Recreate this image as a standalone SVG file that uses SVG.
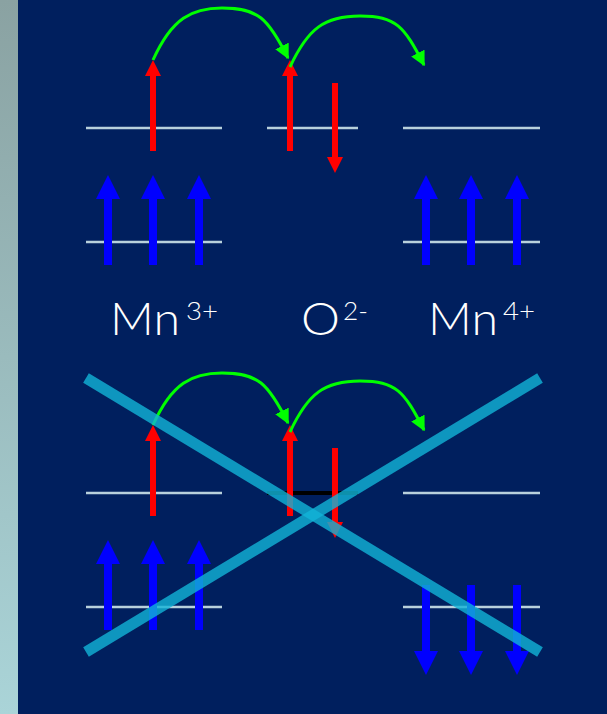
<svg xmlns="http://www.w3.org/2000/svg" width="607" height="714" viewBox="0 0 607 714">
<defs>
<linearGradient id="strip" x1="0" y1="0" x2="0" y2="1">
<stop offset="0" stop-color="#8aa2a2"/>
<stop offset="1" stop-color="#aad4d8"/>
</linearGradient>
<marker id="gh" viewBox="0 0 10 10" refX="9" refY="5" markerWidth="5" markerHeight="5" orient="auto" markerUnits="strokeWidth">
<path d="M0,0 L10,5 L0,10 Z" fill="#00ff00"/>
</marker>
<g id="redUp"><polygon points="-8,16 0,0 8,16" fill="#ff0000"/><rect x="-3" y="14" width="6" height="77" fill="#ff0000"/></g>
<g id="redDown"><polygon points="-8,-16 0,0 8,-16" fill="#ff0000"/><rect x="-3" y="-90" width="6" height="76" fill="#ff0000"/></g>
<g id="blueUp"><polygon points="-12,24 0,0 12,24" fill="#0000ff"/><rect x="-4" y="22" width="8" height="68" fill="#0000ff"/></g>
<g id="blueDown"><polygon points="-12,-24 0,0 12,-24" fill="#0000ff"/><rect x="-4" y="-90" width="8" height="68" fill="#0000ff"/></g>
</defs>
<style>
.lvl{stroke:#b8d0dc;stroke-width:2.5}
.hop{fill:none;stroke:#00ff00;stroke-width:3;marker-end:url(#gh)}
.lbl{font-family:"Lato","Liberation Sans",sans-serif;font-weight:300;fill:#ffffff}
.cross{stroke:#12b4d8;stroke-width:11;opacity:0.8}
</style>
<rect x="0" y="0" width="607" height="714" fill="#001f5e"/>
<rect x="0" y="0" width="18" height="714" fill="url(#strip)"/>

<g id="top-Mn3">
<line class="lvl" x1="86" y1="128" x2="222" y2="128"/>
<line class="lvl" x1="86" y1="242" x2="222" y2="242"/>
<use href="#redUp" x="153" y="60"/>
<use href="#blueUp" x="108" y="175"/>
<use href="#blueUp" x="153" y="175"/>
<use href="#blueUp" x="199" y="175"/>
</g>
<g id="top-O">
<line class="lvl" x1="267" y1="128" x2="358" y2="128"/>
<use href="#redUp" x="290" y="60"/>
<use href="#redDown" x="335" y="173"/>
</g>
<g id="top-Mn4">
<line class="lvl" x1="403" y1="128" x2="540" y2="128"/>
<line class="lvl" x1="403" y1="242" x2="540" y2="242"/>
<use href="#blueUp" x="426" y="175"/>
<use href="#blueUp" x="471" y="175"/>
<use href="#blueUp" x="517" y="175"/>
</g>

<g id="labels">
<text class="lbl" x="110" y="335" font-size="46" textLength="70" lengthAdjust="spacingAndGlyphs">Mn</text>
<text class="lbl" x="186" y="320" font-size="25" textLength="32" lengthAdjust="spacingAndGlyphs">3+</text>
<text class="lbl" x="301" y="335" font-size="46" textLength="39" lengthAdjust="spacingAndGlyphs">O</text>
<text class="lbl" x="343" y="320" font-size="25" textLength="25" lengthAdjust="spacingAndGlyphs">2-</text>
<text class="lbl" x="428" y="335" font-size="46" textLength="70" lengthAdjust="spacingAndGlyphs">Mn</text>
<text class="lbl" x="503" y="320" font-size="25" textLength="32" lengthAdjust="spacingAndGlyphs">4+</text>
</g>

<g id="bot-Mn3">
<line class="lvl" x1="86" y1="493" x2="222" y2="493"/>
<line class="lvl" x1="86" y1="607" x2="222" y2="607"/>
<use href="#redUp" x="153" y="425"/>
<use href="#blueUp" x="108" y="540"/>
<use href="#blueUp" x="153" y="540"/>
<use href="#blueUp" x="199" y="540"/>
</g>
<g id="bot-O">
<line x1="267" y1="493" x2="358" y2="493" stroke="#000000" stroke-width="4"/>
<use href="#redUp" x="290" y="425"/>
<use href="#redDown" x="335" y="538"/>
</g>
<g id="bot-Mn4">
<line class="lvl" x1="403" y1="493" x2="540" y2="493"/>
<line class="lvl" x1="403" y1="607" x2="540" y2="607"/>
<use href="#blueDown" x="426" y="675"/>
<use href="#blueDown" x="471" y="675"/>
<use href="#blueDown" x="517" y="675"/>
</g>

<g id="connectors">
<path class="hop" d="M153,60 C172,18 192,8 222,8 C258,8 268,18 288,58"/>
<path class="hop" d="M290,67 C308,28 325,16 360,16 C396,16 404,26 424,65"/>
<path class="hop" d="M153,425 C172,383 192,373 222,373 C258,373 268,383 288,423"/>
<path class="hop" d="M290,432 C308,393 325,381 360,381 C396,381 404,391 424,430"/>
</g>

<g id="cross">
<line class="cross" x1="86" y1="378" x2="540" y2="652"/>
<line class="cross" x1="86" y1="652" x2="540" y2="378"/>
</g>
</svg>
